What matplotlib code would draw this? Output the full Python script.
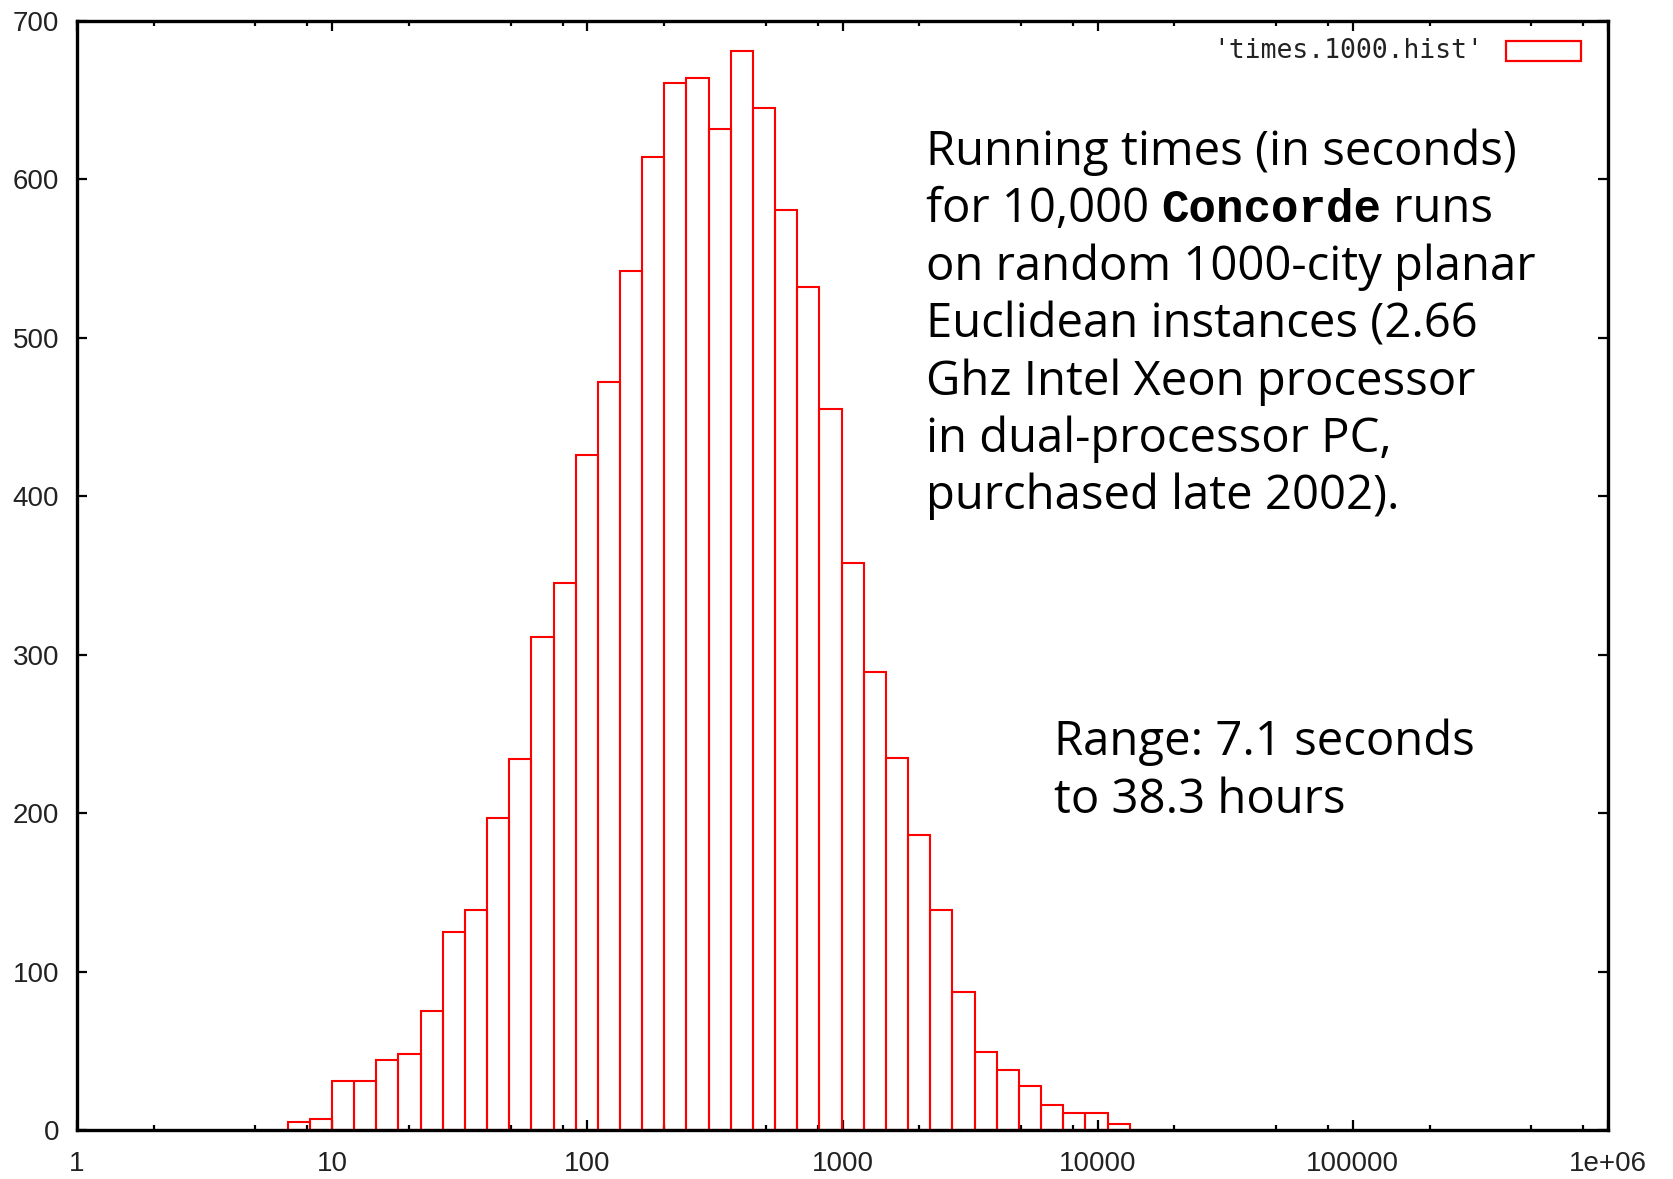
import numpy as np
import matplotlib
matplotlib.use("Agg")
import matplotlib.pyplot as plt
from matplotlib.patches import Rectangle

# ---- data ----
bin_index = np.arange(10, 48)          # bins centred at exp(0.2*k) seconds
bin_width_ln = 0.2
counts = [5, 7, 31, 31, 44, 48, 75, 125, 139, 197, 234, 311, 345, 426, 472,
          542, 614, 661, 664, 632, 681, 645, 581, 532, 455, 358, 289, 235,
          186, 139, 87, 49, 38, 28, 16, 11, 11, 4]
x_major = [1, 10, 100, 1000, 10000, 100000, 1000000]
x_major_labels = ["1", "10", "100", "1000", "10000", "100000", "1e+06"]
y_major = [0, 100, 200, 300, 400, 500, 600, 700]
legend_label = "'times.1000.hist'"
note_lines = ["Running times (in seconds)",
              None,
              "on random 1000-city planar",
              "Euclidean instances (2.66",
              "Ghz Intel Xeon processor",
              "in dual-processor PC,",
              "purchased late 2002)."]
note_line2 = ["for 10,000 ", "Concorde", " runs"]
range_lines = ["Range: 7.1 seconds", "to 38.3 hours"]

W, H = 1673, 1179
fig = plt.figure(figsize=(W / 100, H / 100), dpi=100)
fig.patch.set_facecolor("white")

def fx(x):
    return x / W

def fy(y):
    return 1 - y / H

L, R, T, B = 77, 1608, 21, 1130
ax = fig.add_axes([fx(L), fy(B), (R - L) / W, (B - T) / H])

lo = np.exp(bin_width_ln * (bin_index - 0.5))
hi = np.exp(bin_width_ln * (bin_index + 0.5))
ax.bar(lo, counts, width=hi - lo, align="edge", facecolor="none",
       edgecolor="#ff0000", linewidth=1.5, zorder=3)

ax.set_xscale("log")
ax.set_xlim(1, 1e6)
ax.set_ylim(0, 700)

minor = [m * 10 ** d for d in range(0, 6) for m in (2, 5, 8)]
ax.set_xticks(x_major)
ax.set_xticklabels(x_major_labels)
ax.set_xticks(minor, minor=True)
ax.set_xticklabels([], minor=True)
ax.set_yticks(y_major)
ax.set_yticklabels([str(v) for v in y_major])

for lab in ax.get_xticklabels() + ax.get_yticklabels():
    lab.set_fontfamily(["Liberation Sans", "DejaVu Sans"])
    lab.set_fontsize(20)
    lab.set_color("#222222")

ax.tick_params(which="major", direction="in", top=True, right=True,
               length=7.5, width=1.6, color="black")
ax.tick_params(which="minor", direction="in", top=True, right=True,
               length=3.5, width=1.6, color="black")
ax.tick_params(axis="x", which="major", pad=15)
ax.tick_params(axis="y", which="major", pad=13)

for s in ax.spines.values():
    s.set_linewidth(2.4)
    s.set_color("black")
    s.set_zorder(5)

# legend (gnuplot style)
fig.text(fx(1483), fy(51), legend_label, ha="right", va="center",
         family=["DejaVu Sans Mono"], fontsize=19, color="#222222")
fig.patches.append(Rectangle((fx(1506), fy(61)), (1581 - 1506) / W, 20 / H,
                             transform=fig.transFigure, facecolor="none",
                             edgecolor="#ff0000", linewidth=1.6))

# annotation text
note_font = ["Open Sans", "DejaVu Sans"]
note_size = 34
x0 = 926
base0 = 165
step = 57.4
for i, line in enumerate(note_lines):
    if line is None:
        continue
    fig.text(fx(x0), fy(base0 + i * step), line, ha="left", va="baseline",
             family=note_font, fontsize=note_size, color="black")

# mixed-font second line
fig.canvas.draw()
renderer = fig.canvas.get_renderer()

def text_width(s, fam, wt, size):
    t = fig.text(0, 0, s, family=fam, fontweight=wt, fontsize=size)
    w = t.get_window_extent(renderer).width
    t.remove()
    return w

xcur = x0
ybase = fy(base0 + step)
fonts2 = [(note_font, "normal", note_size),
          (["Liberation Mono", "DejaVu Sans Mono"], "bold", note_size - 1),
          (note_font, "normal", note_size)]
for part, (fam, wt, size) in zip(note_line2, fonts2):
    fig.text(fx(xcur), ybase, part, ha="left", va="baseline", family=fam,
             fontweight=wt, fontsize=size, color="black")
    # width including leading/trailing spaces
    w = text_width("|" + part + "|", fam, wt, size) - text_width("||", fam, wt, size)
    xcur += w

for i, line in enumerate(range_lines):
    fig.text(fx(1054), fy(755 + i * 58), line, ha="left", va="baseline",
             family=note_font, fontsize=note_size, color="black")

fig.savefig("out.png", dpi=100, facecolor="white")
